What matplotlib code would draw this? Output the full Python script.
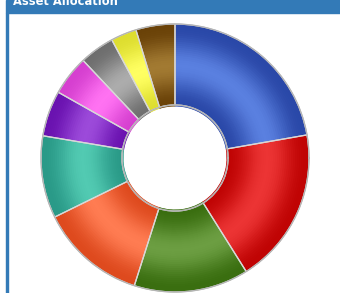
import numpy as np
import matplotlib
matplotlib.use("Agg")
import matplotlib.pyplot as plt
from matplotlib.colors import to_rgb
from matplotlib.patches import Rectangle

title = "Asset Allocation"
categories = ["Asset A", "Asset B", "Asset C", "Asset D", "Asset E",
              "Asset F", "Asset G", "Asset H", "Asset I", "Asset J"]
values = [22.2, 18.8, 13.8, 12.8, 9.9, 5.5, 4.8, 4.2, 3.1, 4.7]
dark_colors = ["#2a48a8", "#c00404", "#3a6e10", "#de4a1e", "#2a9a88",
               "#6a12b0", "#d640d0", "#6e6e6e", "#dede30", "#6a4208"]
light_colors = ["#5a80e0", "#ec3434", "#6c9e42", "#ff7c52", "#52cab2",
                "#9c4ada", "#ff72f2", "#acacac", "#ffff62", "#a27a32"]

W, H = 340, 293
fig = plt.figure(figsize=(W / 100, H / 100), dpi=100)
fig.patch.set_facecolor("white")

# header bar and left border
fig.patches.append(Rectangle((6 / W, 1 - 13 / H), 1 - 6 / W, 13 / H,
                             transform=fig.transFigure, color="#337ab7", zorder=0))
fig.patches.append(Rectangle((6 / W, 0), 1.6 / W, 1 - 13 / H,
                             transform=fig.transFigure, color="#337ab7", zorder=0))
fig.text(13 / W, 1 - 5 / H, title, color="white", fontsize=8.3,
         fontweight="bold", va="baseline", ha="left", family="DejaVu Sans")

cx, cy, R = 175, 158, 134
m = 1.02
ax = fig.add_axes([(cx - R * m) / W, (H - cy - R * m) / H, 2 * R * m / W, 2 * R * m / H])

r_in = 0.396
N = 40
edges = np.linspace(r_in, 1.0, N + 1)
dr = edges[1] - edges[0]
dk = np.array([to_rgb(c) for c in dark_colors])
lt = np.array([to_rgb(c) for c in light_colors])
for i in range(N):
    t = (i + 0.5) / N
    w = np.sin(np.pi * t) ** 2.2
    cols = dk + (lt - dk) * w
    ax.pie(values, radius=edges[i + 1], colors=[tuple(c) for c in cols],
           startangle=90, counterclock=False,
           wedgeprops=dict(width=dr * 1.6, linewidth=0.4))
for p in ax.patches:
    p.set_edgecolor(p.get_facecolor())

# separators and outlines
ax.pie(values, radius=1.0, colors=["none"] * len(values), startangle=90,
       counterclock=False,
       wedgeprops=dict(width=1.0 - r_in, linewidth=0.9, edgecolor="#d8d8d8"))
theta = np.linspace(0, 2 * np.pi, 400)
ax.plot(np.cos(theta), np.sin(theta), color="#b4b4b4", lw=0.9)
ax.plot(r_in * np.cos(theta), r_in * np.sin(theta), color="#b4b4b4", lw=0.9)

ax.set_xlim(-m, m)
ax.set_ylim(-m, m)
ax.set_aspect("equal")
ax.axis("off")

fig.savefig("out.png", dpi=100, facecolor="white")
